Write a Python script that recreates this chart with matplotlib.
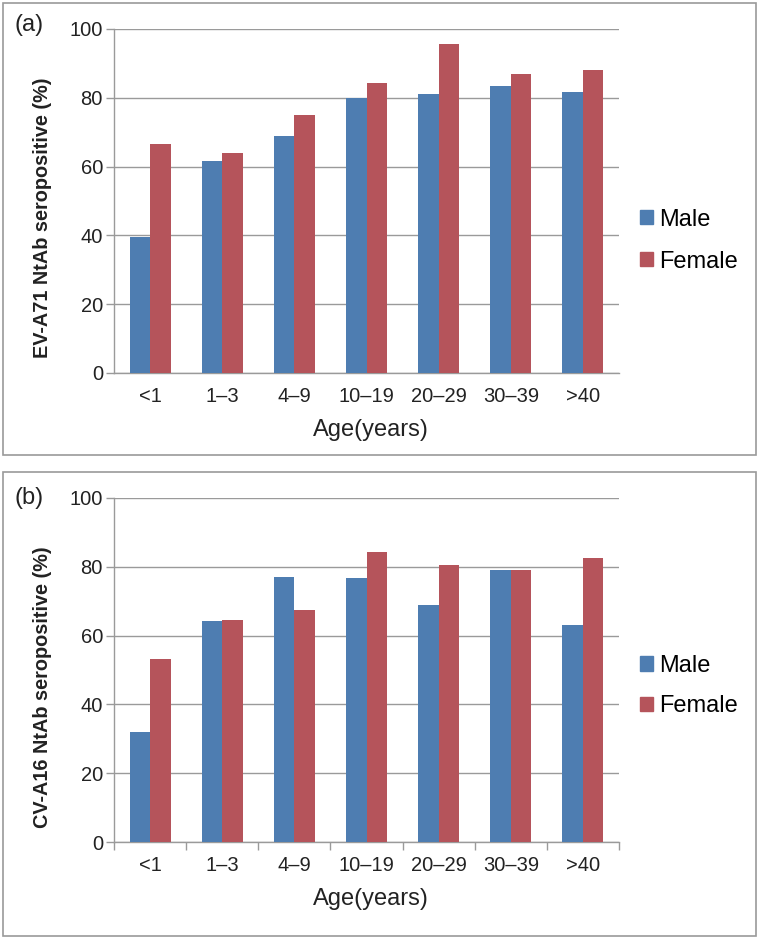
import numpy as np
import matplotlib.pyplot as plt
from matplotlib.patches import Rectangle, Patch

plt.rcParams['font.family'] = ['Liberation Sans', 'DejaVu Sans']

# data
age_groups = ['<1', '1\u20133', '4\u20139', '10\u201319', '20\u201329', '30\u201339', '>40']
ev_male = [39.4, 61.6, 69.0, 80.0, 81.0, 83.4, 81.8]
ev_female = [66.7, 63.9, 75.1, 84.4, 95.7, 86.9, 88.2]
cv_male = [32.0, 64.2, 77.1, 76.7, 69.0, 79.1, 63.2]
cv_female = [53.3, 64.4, 67.5, 84.3, 80.5, 79.2, 82.7]

BLUE = '#4E7DB1'
RED = '#B5545B'
GRAY = '#9A9A9A'
TXT = '#222222'

W, H = 758, 939
fig = plt.figure(figsize=(W / 100, H / 100), dpi=100)


def box(x0, y0, x1, y1):
    # pixel coords (top-left origin) -> figure fraction
    return [x0 / W, 1 - y1 / H, (x1 - x0) / W, (y1 - y0) / H]


def panel(rect, male, female, ylabel, tag, tag_y, xticks, leg_y, leg_sp, frame):
    # outer frame
    fig.patches.append(Rectangle((frame[0], frame[1]), frame[2], frame[3],
                                 transform=fig.transFigure, fill=False,
                                 edgecolor=GRAY, linewidth=1.2))
    ax = fig.add_axes(rect)
    x = np.arange(len(age_groups))
    bw = 0.285
    ax.bar(x - bw / 2, male, bw, color=BLUE, zorder=3)
    ax.bar(x + bw / 2, female, bw, color=RED, zorder=3)
    ax.set_xlim(-0.5, len(age_groups) - 0.5)
    ax.set_ylim(0, 100)
    ax.set_yticks(range(0, 101, 20))
    ax.yaxis.grid(True, color=GRAY, linewidth=1.0, zorder=0)
    ax.set_axisbelow(True)
    for s in ['top', 'right']:
        ax.spines[s].set_visible(False)
    for s in ['left', 'bottom']:
        ax.spines[s].set_color(GRAY)
        ax.spines[s].set_linewidth(1.0)
    ax.tick_params(axis='y', colors=GRAY, labelcolor=TXT, labelsize=14.5,
                   length=6, width=1.0, pad=2)
    ax.set_xticks(x)
    ax.set_xticklabels(age_groups)
    ax.tick_params(axis='x', length=0, labelsize=14.5, labelcolor=TXT, pad=10)
    if xticks:
        ax.set_xticks(np.arange(-0.5, len(age_groups)), minor=True)
        ax.tick_params(axis='x', which='minor', length=6, width=1.0, colors=GRAY)
    ax.set_xlabel('Age(years)', fontsize=17, color=TXT, va='center')
    ax.xaxis.set_label_coords(0.508, -0.166)
    ax.set_ylabel(ylabel, fontsize=14.3, fontweight='bold', color=TXT, va='center')
    ax.yaxis.set_label_coords(-0.141, 0.45)
    fig.text(15 / W, 1 - tag_y / H, tag, fontsize=17, va='center', ha='left', color=TXT)
    handles = [Patch(color=BLUE, label='Male'), Patch(color=RED, label='Female')]
    ax.legend(handles=handles, loc='center left', bbox_to_anchor=(1.022, leg_y),
              frameon=False, fontsize=17, handlelength=0.55, handleheight=0.55,
              handletextpad=0.3, labelspacing=leg_sp, borderaxespad=0)
    return ax


panel(box(114, 29, 619, 373), ev_male, ev_female,
      'EV-A71 NtAb seropositive (%)', '(a)', 25, False, 0.385, 0.85,
      box(3, 3, 756, 455))
panel(box(114, 498, 619, 842), cv_male, cv_female,
      'CV-A16 NtAb seropositive (%)', '(b)', 498, True, 0.453, 0.78,
      box(3, 472, 756, 936))

fig.savefig('out.png', dpi=100)
